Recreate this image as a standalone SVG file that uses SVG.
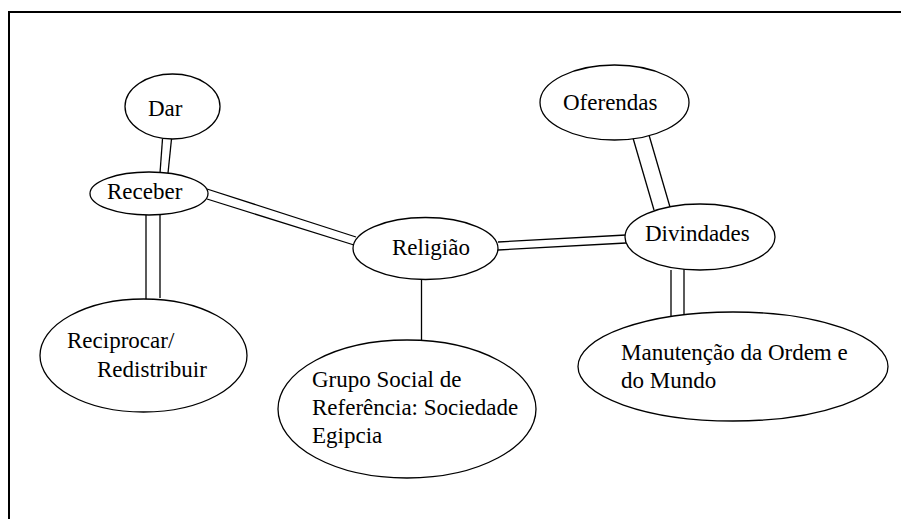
<svg xmlns="http://www.w3.org/2000/svg" width="901" height="519" viewBox="0 0 901 519">
<style>
.n{fill:#fff;stroke:#000;stroke-width:1.3}
.t{font-family:'Liberation Serif','DejaVu Serif',serif;font-size:23px;fill:#000}
.c line{stroke:#000;stroke-width:1.3}
</style>
<rect width="901" height="519" fill="#fff"/>
<path d="M9 519V12H901" fill="none" stroke="#000" stroke-width="2"/>
<g id="connectors" class="c">
<line x1="162.5" y1="139" x2="160" y2="173"/>
<line x1="171.5" y1="139" x2="168" y2="173"/>
<line x1="146" y1="215" x2="146" y2="300"/>
<line x1="160" y1="214" x2="160" y2="298"/>
<line x1="207" y1="189" x2="356" y2="237"/>
<line x1="207" y1="199" x2="354" y2="245"/>
<line x1="421.5" y1="279" x2="421.5" y2="340"/>
<line x1="498" y1="242" x2="626" y2="235"/>
<line x1="498" y1="250" x2="626" y2="243"/>
<line x1="633" y1="138" x2="654" y2="210"/>
<line x1="649" y1="135" x2="670" y2="207"/>
<line x1="671" y1="270" x2="671" y2="317"/>
<line x1="684" y1="269" x2="684" y2="315"/>
</g>
<g id="dar"><ellipse class="n" cx="172.5" cy="106.5" rx="47.5" ry="32.5"/><text class="t" x="148" y="116">Dar</text></g>
<g id="receber"><ellipse class="n" cx="149" cy="193.5" rx="59" ry="21.5"/><text class="t" x="107" y="199">Receber</text></g>
<g id="reciprocar"><ellipse class="n" cx="143.5" cy="355.5" rx="103.5" ry="56.5"/><text class="t" x="67" y="348">Reciprocar/</text><text class="t" x="97" y="377">Redistribuir</text></g>
<g id="religiao"><ellipse class="n" cx="425.5" cy="248.5" rx="72.5" ry="31"/><text class="t" x="392" y="255">Religião</text></g>
<g id="grupo"><ellipse class="n" cx="407" cy="409" rx="129" ry="69"/><text class="t" x="312" y="387">Grupo Social de</text><text class="t" x="312" y="415">Referência: Sociedade</text><text class="t" x="312" y="443">Egipcia</text></g>
<g id="oferendas"><ellipse class="n" cx="614.5" cy="102.5" rx="74.5" ry="37.5"/><text class="t" x="563" y="110">Oferendas</text></g>
<g id="divindades"><ellipse class="n" cx="700" cy="237" rx="75" ry="33"/><text class="t" x="645" y="241">Divindades</text></g>
<g id="manutencao"><ellipse class="n" cx="733" cy="366.5" rx="155" ry="54.5"/><text class="t" x="621" y="360">Manutenção da Ordem e</text><text class="t" x="621" y="388">do Mundo</text></g>
</svg>
